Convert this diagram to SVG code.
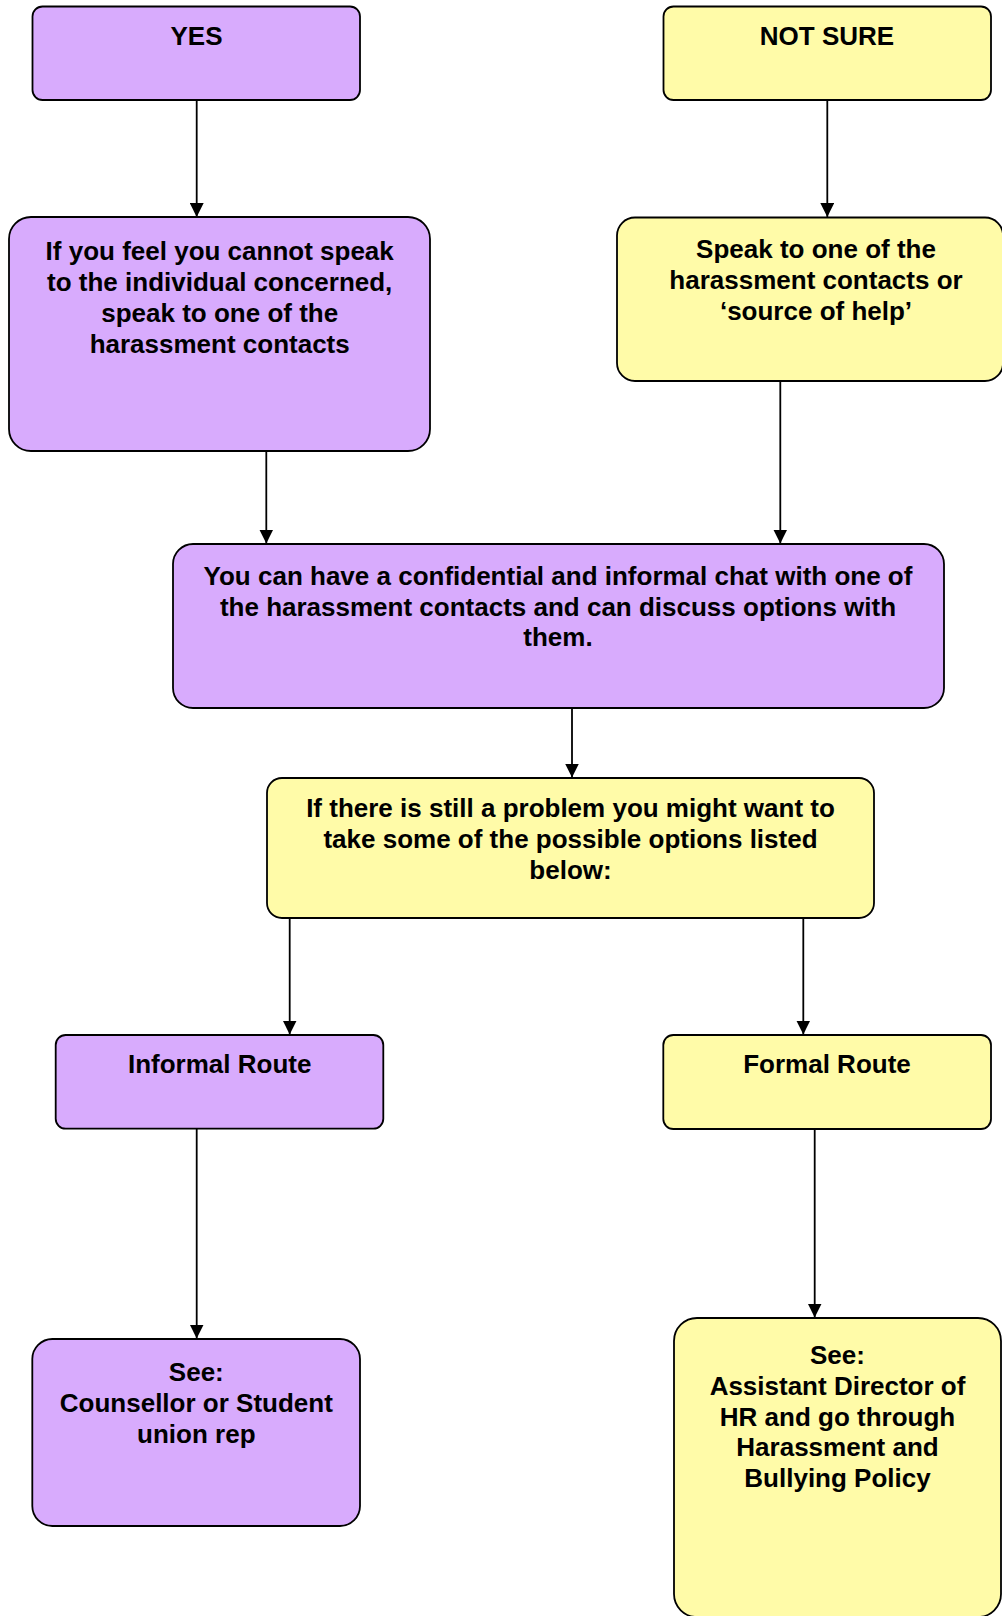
<svg xmlns="http://www.w3.org/2000/svg" width="1002" height="1616" viewBox="0 0 1002 1616">
<style>
.p{fill:#D8ABFD;stroke:#000;stroke-width:1.8}
.y{fill:#FFFBA8;stroke:#000;stroke-width:1.8}
text{font-family:"Liberation Sans",Arial,Helvetica,sans-serif;font-weight:bold;font-size:26px;fill:#000;text-anchor:middle}
.c line{stroke:#000;stroke-width:1.8;marker-end:url(#ah)}
</style>
<defs>
<marker id="ah" viewBox="0 0 14 14" refX="14" refY="7" markerWidth="14" markerHeight="14" markerUnits="userSpaceOnUse" orient="auto">
<path d="M0,0 L14,7 L0,14 z" fill="#000"/>
</marker>
</defs>
<rect width="1002" height="1616" fill="#fff"/>
<g class="c" id="connectors">
<line x1="196.7" y1="100" x2="196.7" y2="217"/>
<line x1="827.3" y1="100" x2="827.3" y2="217"/>
<line x1="266.3" y1="451" x2="266.3" y2="543.5"/>
<line x1="780.3" y1="381" x2="780.3" y2="543.5"/>
<line x1="572" y1="708" x2="572" y2="777.5"/>
<line x1="289.7" y1="918" x2="289.7" y2="1034.5"/>
<line x1="803.3" y1="918" x2="803.3" y2="1034.5"/>
<line x1="196.7" y1="1129" x2="196.7" y2="1338.5"/>
<line x1="814.7" y1="1129" x2="814.7" y2="1317.5"/>
</g>
<g id="yes">
<rect class="p" x="32.5" y="6.5" width="327.5" height="93.5" rx="10"/>
<text x="196.5" y="45">YES</text>
</g>
<g id="notsure">
<rect class="y" x="663.5" y="6.5" width="327.5" height="93.5" rx="10"/>
<text x="827" y="45">NOT SURE</text>
</g>
<g id="cannotspeak">
<rect class="p" x="9" y="217" width="421" height="234" rx="22"/>
<text x="219.7" y="260">If you feel you cannot speak</text>
<text x="219.7" y="291">to the individual concerned,</text>
<text x="219.7" y="322">speak to one of the</text>
<text x="219.7" y="353">harassment contacts</text>
</g>
<g id="speakto">
<rect class="y" x="617" y="217.5" width="386" height="163.5" rx="18"/>
<text x="816" y="258">Speak to one of the</text>
<text x="816" y="289">harassment contacts or</text>
<text x="816" y="320">‘source of help’</text>
</g>
<g id="chat">
<rect class="p" x="173" y="544" width="771" height="164" rx="20"/>
<text x="558" y="585">You can have a confidential and informal chat with one of</text>
<text x="558" y="615.5">the harassment contacts and can discuss options with</text>
<text x="558" y="646">them.</text>
</g>
<g id="problem">
<rect class="y" x="267" y="778" width="607" height="140" rx="15"/>
<text x="570.5" y="817">If there is still a problem you might want to</text>
<text x="570.5" y="848">take some of the possible options listed</text>
<text x="570.5" y="879">below:</text>
</g>
<g id="informal">
<rect class="p" x="55.7" y="1035" width="327.6" height="93.7" rx="10"/>
<text x="219.7" y="1073">Informal Route</text>
</g>
<g id="formal">
<rect class="y" x="663.3" y="1035" width="327.7" height="94" rx="10"/>
<text x="827" y="1073">Formal Route</text>
</g>
<g id="counsellor">
<rect class="p" x="32.3" y="1339" width="327.7" height="187" rx="20"/>
<text x="196.3" y="1380.5">See:</text>
<text x="196.3" y="1411.5">Counsellor or Student</text>
<text x="196.3" y="1442.5">union rep</text>
</g>
<g id="hr">
<rect class="y" x="674" y="1318" width="327" height="299" rx="23"/>
<text x="837.5" y="1364">See:</text>
<text x="837.5" y="1395">Assistant Director of</text>
<text x="837.5" y="1425.5">HR and go through</text>
<text x="837.5" y="1456">Harassment and</text>
<text x="837.5" y="1487">Bullying Policy</text>
</g>
</svg>
